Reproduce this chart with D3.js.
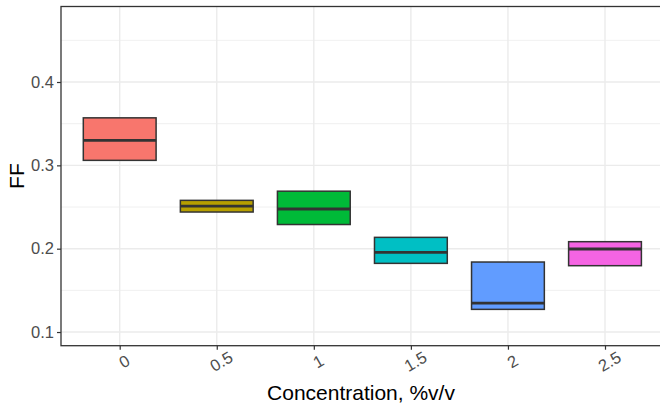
<!DOCTYPE html>
<html><head><meta charset="utf-8">
<script src="https://cdn.jsdelivr.net/npm/d3@7"></script>
<style>body{margin:0;background:#fff}svg{display:block}text{font-family:Arial,"Liberation Sans",sans-serif}</style>
</head><body><svg id="c" width="660" height="406"></svg>
<script>
const categories = ["0","0.5","1","1.5","2","2.5"];
const q1 = [0.306, 0.244, 0.229, 0.1824, 0.1272, 0.1796];
const medians = [0.330, 0.251, 0.2476, 0.1956, 0.1348, 0.1996];
const q3 = [0.357, 0.258, 0.269, 0.2136, 0.184, 0.2084];
const colors = ["#F8766D","#B79F00","#00BA38","#00BFC4","#619CFF","#F564E3"];
const yTicks = [0.1, 0.2, 0.3, 0.4];
const yMinor = [0.15, 0.25, 0.35, 0.45];
const yDomain = [0.0836, 0.4906];

const svg = d3.select("#c");
const L = 61, R = 663, T = 6.5, B = 345.7;
const x = d3.scalePoint().domain(categories).range([119.7, 605]);
const step = x.step();
const y = d3.scaleLinear().domain(yDomain).range([B, T]);

const g = svg.append("g");
// grid
g.selectAll(".mn").data(yMinor).join("line")
  .attr("x1", L).attr("x2", R).attr("y1", d => y(d)).attr("y2", d => y(d))
  .attr("stroke", "#ebebeb").attr("stroke-width", 0.75);
g.selectAll(".mj").data(yTicks).join("line")
  .attr("x1", L).attr("x2", R).attr("y1", d => y(d)).attr("y2", d => y(d))
  .attr("stroke", "#ebebeb").attr("stroke-width", 1.4);
g.selectAll(".vx").data(categories).join("line")
  .attr("x1", d => x(d)).attr("x2", d => x(d)).attr("y1", T).attr("y2", B)
  .attr("stroke", "#ebebeb").attr("stroke-width", 1.4);

// boxes
const bw = step * 0.75;
const data = categories.map((c, i) => ({c, q1: q1[i], m: medians[i], q3: q3[i], col: colors[i]}));
const bx = g.selectAll(".b").data(data).join("g");
bx.append("rect")
  .attr("x", d => x(d.c) - bw/2).attr("width", bw)
  .attr("y", d => y(d.q3)).attr("height", d => y(d.q1) - y(d.q3))
  .attr("fill", d => d.col).attr("stroke", "#333").attr("stroke-width", 1.5);
bx.append("line")
  .attr("x1", d => x(d.c) - bw/2).attr("x2", d => x(d.c) + bw/2)
  .attr("y1", d => y(d.m)).attr("y2", d => y(d.m))
  .attr("stroke", "#333").attr("stroke-width", 2.8);

// panel border
g.append("rect").attr("x", L).attr("y", T).attr("width", R - L).attr("height", B - T)
  .attr("fill", "none").attr("stroke", "#333").attr("stroke-width", 1.3);

// y axis
const ya = svg.append("g").attr("transform", `translate(${L},0)`)
  .call(d3.axisLeft(y).tickValues(yTicks).tickFormat(d3.format(".1f")).tickSize(4).tickPadding(3));
ya.select(".domain").remove();
ya.selectAll(".tick line").attr("stroke", "#333").attr("stroke-width", 1.2);
ya.selectAll(".tick text").attr("fill", "#4d4d4d").style("font-size", "16.5px").style("font-family", "Arial, 'Liberation Sans', sans-serif");

// x axis
const xa = svg.append("g").attr("transform", `translate(0,${B})`)
  .call(d3.axisBottom(x).tickSize(4).tickPadding(0));
xa.select(".domain").remove();
xa.selectAll(".tick line").attr("stroke", "#333").attr("stroke-width", 1.2);
xa.selectAll(".tick text").attr("fill", "#4d4d4d").style("font-size", "16.5px")
  .style("font-family", "Arial, 'Liberation Sans', sans-serif")
  .attr("text-anchor", "middle").attr("dy", null).attr("y", null)
  .attr("dominant-baseline", "central")
  .attr("transform", "translate(4,15.5) rotate(-30)");

// titles
svg.append("text").attr("x", (L + R) / 2 - 1).attr("y", 400).attr("text-anchor", "middle")
  .style("font-size", "21px").attr("fill", "#000").text("Concentration, %v/v");
svg.append("text").attr("transform", `translate(23.5,${(T + B) / 2}) rotate(-90)`)
  .attr("text-anchor", "middle").style("font-size", "21px").attr("fill", "#000").text("FF");
</script></body></html>
